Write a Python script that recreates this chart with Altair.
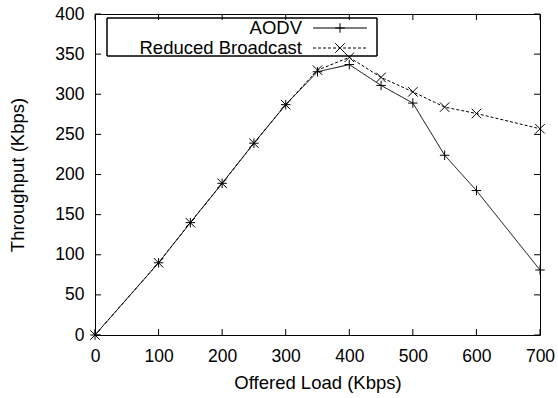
import altair as alt
import pandas as pd

# ---- data ----
offered_load = [0, 100, 150, 200, 250, 300, 350, 400, 450, 500, 550, 600, 700]
aodv = [0, 90, 140, 189, 239, 287, 328, 337, 311, 289, 224, 180, 81]
reduced_broadcast = [0, 90, 140, 189, 239, 287, 330, 346, 321, 303, 284, 276, 257]
series_names = ["AODV", "Reduced Broadcast"]
x_ticks = [0, 100, 200, 300, 400, 500, 600, 700]
y_ticks = [0, 50, 100, 150, 200, 250, 300, 350, 400]

W, H = 445, 321
FONT = "Liberation Sans"

rows = []
for x, a, r in zip(offered_load, aodv, reduced_broadcast):
    rows.append({"load": x, "tput": a, "series": series_names[0]})
    rows.append({"load": x, "tput": r, "series": series_names[1]})
df = pd.DataFrame(rows)

xscale = alt.Scale(domain=[0, 700], nice=False, zero=False)
yscale = alt.Scale(domain=[0, 400], nice=False, zero=False)

plus_path = "M-1,0L1,0M0,-1L0,1"
cross_path = "M-1,-1L1,1M-1,1L1,-1"
shape_scale = alt.Scale(domain=series_names, range=[plus_path, cross_path])
dash_scale = alt.Scale(domain=series_names, range=[[1, 0], [3, 2]])

x_axis = alt.Axis(values=x_ticks, title="Offered Load (Kbps)", grid=False,
                  domain=False, ticks=False, tickSize=0, labelPadding=12,
                  labelFlush=False, labelOverlap=False,
                  labelFontSize=17.5, labelFont=FONT, labelColor="black",
                  titleFont=FONT, titleFontSize=18.5, titleFontWeight="normal",
                  titleColor="black", titleBaseline="alphabetic", titleY=53)
y_axis = alt.Axis(values=y_ticks, title="Throughput (Kbps)", grid=False,
                  domain=False, ticks=False, tickSize=0, labelPadding=11,
                  labelFlush=False, labelOverlap=False,
                  labelFontSize=17.5, labelFont=FONT, labelColor="black",
                  titleFont=FONT, titleFontSize=18.5, titleFontWeight="normal",
                  titleColor="black", titleBaseline="alphabetic", titleX=-72)


def X(field):
    return alt.X(field, scale=xscale, axis=x_axis)


def Y(field):
    return alt.Y(field, scale=yscale, axis=y_axis)


lines = alt.Chart(df).mark_line(color="black", strokeWidth=1).encode(
    x=X("load:Q"), y=Y("tput:Q"),
    detail="series:N",
    strokeDash=alt.StrokeDash("series:N", scale=dash_scale, legend=None),
)
points = alt.Chart(df).mark_point(filled=False, color="black", strokeWidth=1, size=90, opacity=1).encode(
    x=X("load:Q"), y=Y("tput:Q"),
    shape=alt.Shape("series:N", scale=shape_scale, legend=None),
)

# inward ticks on all four sides
xt = pd.DataFrame({"load": x_ticks})
yt = pd.DataFrame({"tput": y_ticks})
TL = 6
tick_b = alt.Chart(xt).mark_rule(color="black", strokeWidth=1).encode(
    x=X("load:Q"), y=alt.value(H), y2=alt.value(H - TL))
tick_t = alt.Chart(xt).mark_rule(color="black", strokeWidth=1).encode(
    x=X("load:Q"), y=alt.value(0), y2=alt.value(TL))
tick_l = alt.Chart(yt).mark_rule(color="black", strokeWidth=1).encode(
    y=Y("tput:Q"), x=alt.value(0), x2=alt.value(TL))
tick_r = alt.Chart(yt).mark_rule(color="black", strokeWidth=1).encode(
    y=Y("tput:Q"), x=alt.value(W), x2=alt.value(W - TL))

# gnuplot-style key
leg = pd.DataFrame({"series": series_names})
leg_box = alt.Chart(leg).mark_rect(fill=None, stroke="black", strokeWidth=1).encode(
    x=alt.value(12), x2=alt.value(282), y=alt.value(4), y2=alt.value(42))
leg_layers = [leg_box]
for name, ly in zip(series_names, [14, 34]):
    base = alt.Chart(leg).transform_filter(alt.datum.series == name)
    leg_layers.append(base.mark_rule(color="black", strokeWidth=1).encode(
        x=alt.value(218), x2=alt.value(272), y=alt.value(ly),
        strokeDash=alt.StrokeDash("series:N", scale=dash_scale, legend=None)))
    leg_layers.append(base.mark_point(filled=False, color="black", strokeWidth=1, size=90, opacity=1).encode(
        x=alt.value(245), y=alt.value(ly),
        shape=alt.Shape("series:N", scale=shape_scale, legend=None)))
    leg_layers.append(base.mark_text(align="right", baseline="middle", font=FONT,
                                     fontSize=18.5, color="black").encode(
        x=alt.value(207), y=alt.value(ly), text="series:N"))

chart = alt.layer(
    lines, points, tick_b, tick_t, tick_l, tick_r, *leg_layers
).properties(
    width=W, height=H,
    autosize=alt.AutoSizeParams(type="none"),
    padding={"left": 95, "top": 14, "right": 18, "bottom": 63},
    background="white",
).configure_view(stroke="black", strokeWidth=1)

chart.save("out.html", embed_options={"renderer": "svg", "actions": False})
